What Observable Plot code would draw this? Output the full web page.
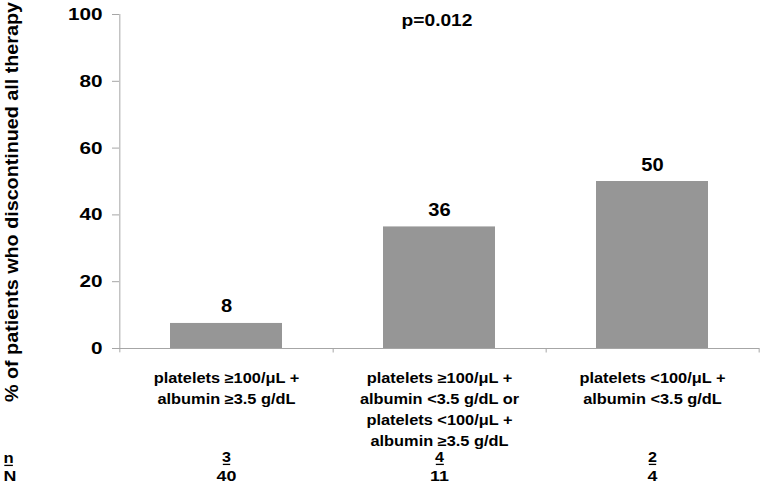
<!DOCTYPE html>
<html>
<head>
<meta charset="utf-8">
<script src="https://cdn.jsdelivr.net/npm/d3@7"></script>
<script src="https://cdn.jsdelivr.net/npm/@observablehq/plot@0.6"></script>
<style>
  html, body { margin: 0; padding: 0; background: #fff; }
</style>
</head>
<body>
<div id="chart"></div>
<script>
const categories = [
  "platelets ≥100/μL +\nalbumin ≥3.5 g/dL",
  "platelets ≥100/μL +\nalbumin <3.5 g/dL or\nplatelets <100/μL +\nalbumin ≥3.5 g/dL",
  "platelets <100/μL +\nalbumin <3.5 g/dL"
];
const values = [7.5, 36.4, 50];
const valueLabels = ["8", "36", "50"];
const nEvents = ["3", "4", "2"];
const nTotal = ["40", "11", "4"];
const yTicks = [0, 20, 40, 60, 80, 100];
const yLabel = "% of patients who discontinued all therapy";
const pLabel = "p=0.012";
const rowLabels = ["n", "N"];

const W = 760, H = 484;
const mL = 119, mR = 1, mT = 14, mB = 136;
const half = (W - mL - mR) / categories.length / 2;

const data = categories.map((c, i) => ({
  cat: c, value: values[i], label: valueLabels[i], n: nEvents[i], N: nTotal[i]
}));

const axisGray = "#a6a6a6";
const font = "'Liberation Sans', Arial, sans-serif";

// render hook: tag the mark's group and widen its glyphs horizontally
function wide(name, sx, fitLength) {
  return (index, scales, values, dimensions, context, next) => {
    const g = next(index, scales, values, dimensions, context);
    g.setAttribute("data-name", name);
    g.querySelectorAll("text").forEach(t => {
      if (fitLength) {
        t.setAttribute("textLength", fitLength);
        t.setAttribute("lengthAdjust", "spacingAndGlyphs");
      }
      if (sx !== 1) {
        const tr = t.getAttribute("transform") || "";
        t.setAttribute("transform", (tr + ` scale(${sx},1)`).trim());
      }
    });
    return g;
  };
}

const chart = Plot.plot({
  width: W,
  height: H,
  marginLeft: mL,
  marginRight: mR,
  marginTop: mT,
  marginBottom: mB,
  style: { fontFamily: font, fontWeight: "bold", color: "#000", background: "#fff", overflow: "visible" },
  x: { domain: categories, paddingInner: 0.475, paddingOuter: 0.2375, axis: null },
  y: { domain: [0, 100], axis: null },
  marks: [
    Plot.barY(data, { x: "cat", y: "value", fill: "#969696" }),
    Plot.ruleY([0], { stroke: axisGray, strokeWidth: 1 }),
    Plot.ruleX([categories[0]], { x: d => d, dx: -half, y1: -1.3, y2: 100, stroke: axisGray }),
    Plot.ruleX(categories, { x: d => d, dx: half, y1: 0, y2: -1.35, stroke: axisGray }),
    Plot.axisY({ ticks: yTicks, label: null, tickSize: 7, stroke: axisGray, tickFormat: () => "" }),
    Plot.text(yTicks, { y: d => d, text: d => String(d), frameAnchor: "left", textAnchor: "end", dx: -17, fontSize: 17, fontWeight: "bold", fill: "#000", render: wide("ytick", 1.22) }),
    Plot.text([yLabel], { frameAnchor: "left", textAnchor: "middle", dx: -107, dy: 20.5, rotate: -90, fontSize: 18.5, fontWeight: "bold", fill: "#000", render: wide("ylabel", 1, 400) }),
    Plot.text(data, { x: "cat", y: "value", text: "label", lineAnchor: "bottom", dy: -11, fontSize: 17.5, fontWeight: "bold", fill: "#000", render: wide("value", 1.15) }),
    Plot.text([pLabel], { frameAnchor: "top", lineAnchor: "bottom", dx: -2.5, dy: 11, fontSize: 16, fontWeight: "bold", fill: "#000", render: wide("p", 1.2) }),
    Plot.text(data, { x: "cat", y: () => 0, text: "cat", lineAnchor: "top", dy: 20, lineHeight: 1.5, fontSize: 14, fontWeight: "bold", fill: "#000", render: wide("cat", 1.17) }),
    Plot.text(data, { x: "cat", text: "n", frameAnchor: "bottom", lineAnchor: "bottom", dy: 113.5, fontSize: 14, fontWeight: "bold", fill: "#000", render: wide("nrow", 1.15) }),
    Plot.text(data, { x: "cat", text: "N", frameAnchor: "bottom", lineAnchor: "bottom", dy: 132.5, fontSize: 15.5, fontWeight: "bold", fill: "#000", render: wide("Nrow", 1.15) }),
    Plot.text([rowLabels[0]], { frameAnchor: "bottom-left", textAnchor: "start", lineAnchor: "bottom", dx: -116, dy: 114.5, fontSize: 14.5, fontWeight: "bold", fill: "#000", render: wide("nrow", 1.15) }),
    Plot.text([rowLabels[1]], { frameAnchor: "bottom-left", textAnchor: "start", lineAnchor: "bottom", dx: -116, dy: 132.5, fontSize: 15.5, fontWeight: "bold", fill: "#000", render: wide("Nrow", 1.15) })
  ]
});

document.getElementById("chart").appendChild(chart);

// underline the n row (just under each label's baseline)
const svgRect = chart.getBoundingClientRect();
chart.querySelectorAll('g[data-name="nrow"] text').forEach(t => {
  const r = t.getBoundingClientRect();
  const m = t.getCTM();
  const yy = m.f + 2.4;
  const line = document.createElementNS("http://www.w3.org/2000/svg", "line");
  line.setAttribute("x1", r.left - svgRect.left + 0.8);
  line.setAttribute("x2", r.right - svgRect.left - 0.8);
  line.setAttribute("y1", yy);
  line.setAttribute("y2", yy);
  line.setAttribute("stroke", "#000");
  line.setAttribute("stroke-width", 1.3);
  chart.appendChild(line);
});
</script>
</body>
</html>
